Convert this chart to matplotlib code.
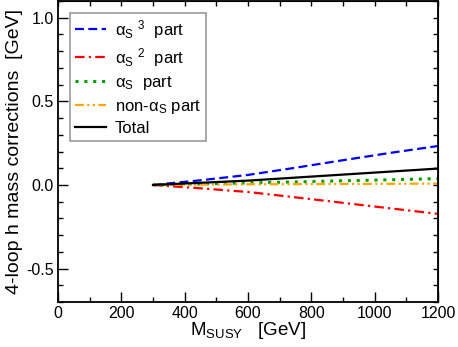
import matplotlib
matplotlib.use('Agg')
import matplotlib.pyplot as plt

plt.rcParams['font.family'] = ['Liberation Sans', 'DejaVu Sans']
plt.rcParams['mathtext.fontset'] = 'custom'
plt.rcParams['mathtext.rm'] = 'Liberation Sans'
plt.rcParams['mathtext.it'] = 'Liberation Sans'

# data
msusy = [300, 450, 600, 750, 900, 1050, 1200]
as3_part = [0.0, 0.028, 0.060, 0.103, 0.148, 0.192, 0.233]
as2_part = [0.0, -0.020, -0.042, -0.074, -0.107, -0.140, -0.173]
as_part = [0.0, 0.006, 0.012, 0.018, 0.025, 0.031, 0.038]
non_as_part = [0.0, 0.002, 0.004, 0.005, 0.006, 0.007, 0.008]
total = [0.0, 0.013, 0.026, 0.044, 0.062, 0.080, 0.098]

fig = plt.figure(figsize=(4.58, 3.47), dpi=100)
ax = fig.add_axes([0.1266, 0.1297, 0.8297, 0.8673])

ax.plot(msusy, as3_part, color='#0000ff', lw=1.6, dashes=(4, 2),
        label='α$_\\mathregular{S}$ $^\\mathregular{3}$  part')
ax.plot(msusy, as2_part, color='#ff0000', lw=1.6, dashes=(4.3, 1.9, 1, 1.9),
        label='α$_\\mathregular{S}$ $^\\mathregular{2}$  part')
ax.plot(msusy, as_part, color='#00a000', lw=2.2, dashes=(1, 1.9),
        dash_capstyle='butt', label='α$_\\mathregular{S}$  part')
ax.plot(msusy, non_as_part, color='#ffa500', lw=1.6, dashes=(4, 1.5, 1, 1.5, 1, 1.5),
        label='non-α$_\\mathregular{S}$ part')
ax.plot(msusy, total, color='black', lw=1.6, label='Total')

ax.set_xlim(0, 1200)
ax.set_ylim(-0.7, 1.1)
ax.set_xticks(range(0, 1201, 200))
ax.set_xticks(range(0, 1201, 100), minor=True)
ax.set_yticks([-0.5, 0.0, 0.5, 1.0])
ax.set_yticklabels(['-0.5', '0.0', '0.5', '1.0'])
ax.set_yticks([i / 10 for i in range(-7, 12)], minor=True)
ax.tick_params(which='major', direction='in', length=7, width=1, labelsize=11.5, pad=3)
ax.tick_params(which='minor', direction='in', length=3.5, width=1)
for s in ax.spines.values():
    s.set_linewidth(1.3)

top = ax.secondary_xaxis('top')
top.set_xticks(range(0, 1201, 100))
top.tick_params(direction='in', length=3.5, width=1, labeltop=False)
right = ax.secondary_yaxis('right')
right.set_yticks([i / 10 for i in range(-7, 12)])
right.tick_params(direction='in', length=3.5, width=1, labelright=False)

ax.set_xlabel('M$_\\mathregular{SUSY}$   [GeV]', fontsize=13.5, labelpad=-1)
ax.set_ylabel('4-loop h mass corrections  [GeV]', fontsize=14, labelpad=2)

leg = ax.legend(loc='upper left', fontsize=12, handlelength=1.9,
                fancybox=False, edgecolor='#999999', framealpha=1,
                borderaxespad=0.7, labelspacing=0.32, handletextpad=0.5,
                borderpad=0.3)
leg.get_frame().set_linewidth(1.2)

fig.savefig('out.png', dpi=100)
